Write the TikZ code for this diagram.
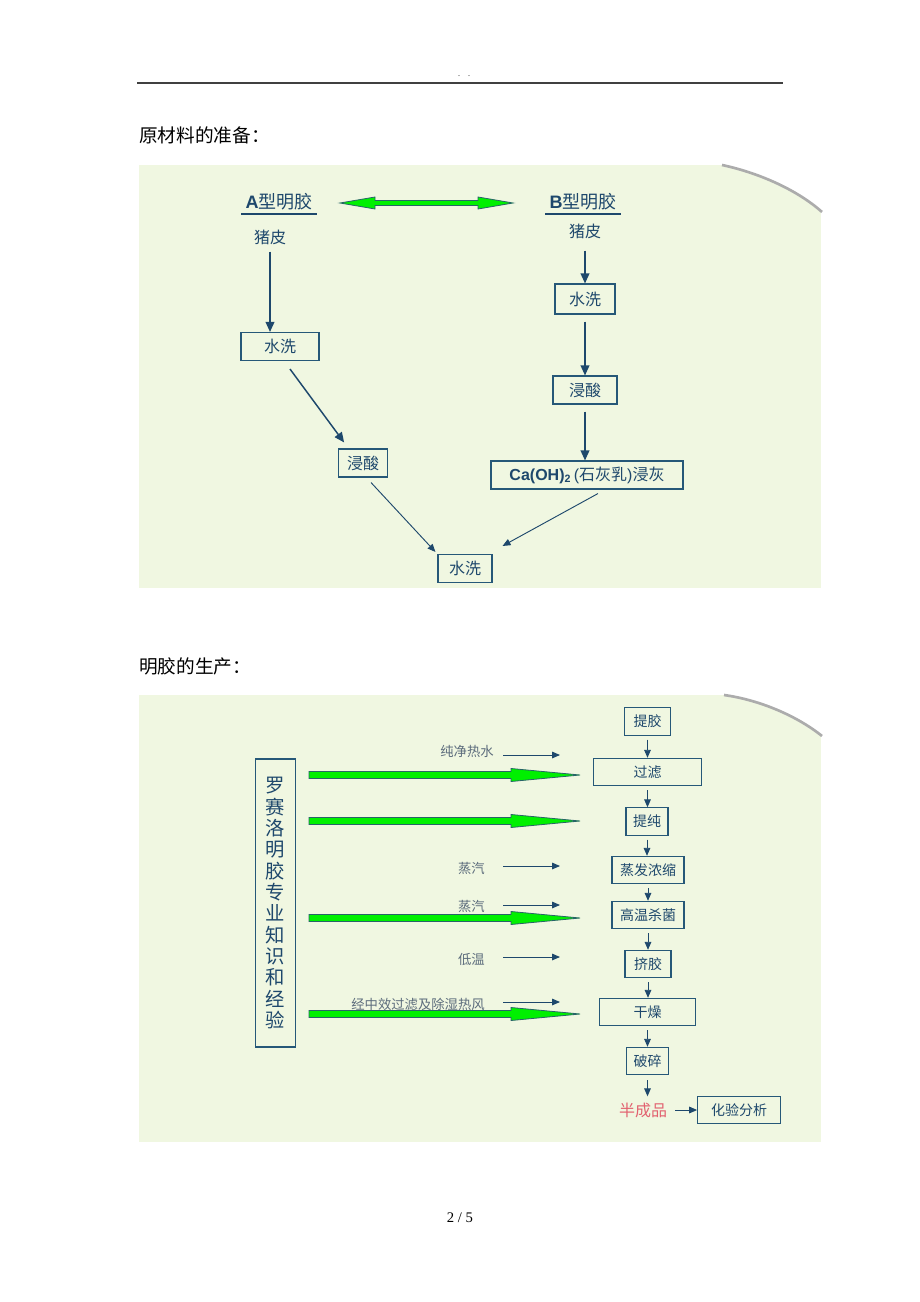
\documentclass[tikz,border=0pt]{standalone}
\usepackage{fontspec}
\setmainfont{Liberation Serif}
\newfontfamily\cjk{Noto Sans CJK SC}
\newfontfamily\arialf{Liberation Sans}
\usetikzlibrary{arrows.meta,calc}
\definecolor{panelbg}{RGB}{240,247,225}
\definecolor{inkblue}{RGB}{30,72,108}
\definecolor{boxline}{RGB}{38,88,120}
\definecolor{labelgray}{RGB}{92,108,124}
\definecolor{semired}{RGB}{226,98,112}
\definecolor{brightgreen}{RGB}{0,240,0}
\definecolor{greenedge}{RGB}{40,100,104}
\tikzset{
  stepbox/.style={draw=boxline,line width=0.8pt,text=inkblue,inner sep=0pt,
    minimum height=21pt,font=\cjk\fontsize{12}{14}\selectfont},
  procbox/.style={stepbox,minimum height=20.5pt,font=\cjk\fontsize{10.5}{12}\selectfont},
  plain/.style={text=inkblue,inner sep=0pt,font=\cjk\fontsize{12}{14}\selectfont},
  sidelabel/.style={text=labelgray,inner sep=0pt,anchor=east,font=\cjk\fontsize{10}{12}\selectfont},
  flow/.style={draw=inkblue,line width=1.1pt,-{Triangle[length=7.5pt,width=6.5pt]}},
  thinflow/.style={draw=inkblue,line width=0.7pt,-{Triangle[length=6pt,width=5pt]}},
  bigarrow/.style={fill=brightgreen,draw=greenedge,line width=0.6pt},
  curl/.style={draw=gray!65,line width=2pt}
}
\begin{document}
\begin{tikzpicture}[x=0.75pt,y=-0.75pt]
\useasboundingbox (0,0) rectangle (920,1302);

\draw[black!75,line width=1.2pt] (137,83) -- (783,83);
\node[font=\fontsize{6}{7}\selectfont] at (464,76) {.\quad .};
\node[anchor=west,inner sep=0pt,font=\cjk\fontsize{14}{16}\selectfont] (title1) at (139,135) {原材料的准备：};

\fill[panelbg] (139,165) rectangle (821,588);
\fill[white] (722,164) .. controls (755,172) and (795,188) .. (822,212) -- (822,164) -- cycle;
\draw[curl] (722,165) .. controls (755,172) and (795,188) .. (822,212);

\node[plain,font=\cjk\fontsize{13.5}{16}\selectfont,inner xsep=3pt] (typeA) at (279,202) {{\arialf\bfseries A}型明胶};
\node[plain,font=\cjk\fontsize{13.5}{16}\selectfont,inner xsep=3pt] (typeB) at (583,202) {{\arialf\bfseries B}型明胶};
\draw[inkblue,line width=1.5pt] ($(typeA.south west)+(0,3)$) -- ($(typeA.south east)+(0,3)$);
\draw[inkblue,line width=1.5pt] ($(typeB.south west)+(0,3)$) -- ($(typeB.south east)+(0,3)$);
\filldraw[bigarrow] (340,203) -- (375,197) -- (375,200.5) -- (478,200.5) -- (478,197) -- (513,203)
  -- (478,209) -- (478,205.5) -- (375,205.5) -- (375,209) -- cycle;

\node[plain] (skinA) at (270,237) {猪皮};
\node[plain] (skinB) at (585,231) {猪皮};
\node[stepbox,minimum width=58.5pt] (washA) at (280,346.5) {水洗};
\node[stepbox,minimum width=36.5pt] (acidA) at (363,463) {浸酸};
\node[stepbox,minimum width=40.5pt] (washEnd) at (465,568.5) {水洗};
\node[stepbox,minimum width=45pt,minimum height=22.5pt] (washB) at (585,299) {水洗};
\node[stepbox,minimum width=48pt] (acidB) at (585,390) {浸酸};
\node[stepbox,minimum width=144pt] (limeB) at (587,475)
  {{\arialf\bfseries Ca(OH)\textsubscript{2}}\,{\arialf (}石灰乳{\arialf )}浸灰};

\draw[flow] ($(skinA.south)+(0,7)$) -- (skinA.south |- washA.north);
\draw[flow] ($(washA.south)+(10,8)$) -- ($(acidA.north west)+(6,-6)$);
\draw[thinflow] ($(acidA.south)+(8,5)$) -- ($(washEnd.north west)+(-2,-2)$);
\draw[thinflow] ($(limeB.south)+(11,4)$) -- ($(washEnd.north east)+(10,-8)$);
\draw[flow] ($(skinB.south)+(0,12)$) -- (washB.north);
\draw[flow] ($(washB.south)+(0,7)$) -- (acidB.north);
\draw[flow] ($(acidB.south)+(0,7)$) -- (acidB.south |- limeB.north);

\node[anchor=west,inner sep=0pt,font=\cjk\fontsize{14}{16}\selectfont] (title2) at (139,666) {明胶的生产：};

\fill[panelbg] (139,695) rectangle (821,1142);
\fill[white] (724,694) .. controls (760,700) and (797,716) .. (822,736) -- (822,694) -- cycle;
\draw[curl] (724,695) .. controls (760,700) and (797,716) .. (822,736);

\node[draw=boxline,line width=0.8pt,text=inkblue,inner sep=0pt,minimum width=29.5pt,minimum height=216pt,
  align=center,font=\cjk\fontsize{14.5}{16}\selectfont] (expert) at (275.5,903)
  {罗\\赛\\洛\\明\\胶\\专\\业\\知\\识\\和\\经\\验};

\foreach \y in {775,821,918,1014}
  \filldraw[bigarrow] (309,\y-3.5) -- (511,\y-3.5) -- (511,\y-6.5) -- (580,\y) -- (511,\y+6.5)
    -- (511,\y+3.5) -- (309,\y+3.5) -- cycle;

\node[procbox,minimum width=35pt] (extract) at (647.5,721.5) {提胶};
\node[procbox,minimum width=81.5pt] (filter) at (647.5,772) {过滤};
\node[procbox,minimum width=31.5pt] (purify) at (647,821.5) {提纯};
\node[procbox,minimum width=54pt] (evap) at (648,870) {蒸发浓缩};
\node[procbox,minimum width=54pt] (steril) at (648,915) {高温杀菌};
\node[procbox,minimum width=34.5pt] (squeeze) at (648,964) {挤胶};
\node[procbox,minimum width=72.5pt] (dry) at (647.5,1012) {干燥};
\node[procbox,minimum width=32pt] (crush) at (647.5,1061) {破碎};
\node[text=semired,inner sep=0pt,font=\cjk\fontsize{12}{14}\selectfont] (semi) at (643,1110) {半成品};
\node[procbox,minimum width=62pt,minimum height=20pt] (assay) at (739,1110) {化验分析};

\foreach \a/\b in {extract/filter,filter/purify,purify/evap,evap/steril,steril/squeeze,squeeze/dry,dry/crush}
  \draw[thinflow] ($(\a.south)+(0,4)$) -- (\a.south |- \b.north);
\draw[thinflow] ($(crush.south)+(0,5)$) -- ($(crush.south |- semi.north)+(0,-6)$);
\draw[thinflow] ($(semi.east)+(8,0)$) -- (assay.west);

\node[sidelabel] (water) at (494,751) {纯净热水};
\node[sidelabel] (steam1) at (485,868) {蒸汽};
\node[sidelabel] (steam2) at (485,906) {蒸汽};
\node[sidelabel] (cold) at (485,959) {低温};
\node[sidelabel] (air) at (485,1004) {经中效过滤及除湿热风};
\coordinate (waterEnd) at (560,755);
\coordinate (steam1End) at (560,866);
\coordinate (steam2End) at (560,905);
\coordinate (coldEnd) at (560,957);
\coordinate (airEnd) at (560,1002);
\foreach \l in {water,steam1,steam2,cold,air}
  \draw[thinflow] (\l End -| 503,0) -- (\l End);

\node[font=\fontsize{11}{13}\selectfont] (pageno) at (460,1218) {2 / 5};
\end{tikzpicture}
\end{document}
